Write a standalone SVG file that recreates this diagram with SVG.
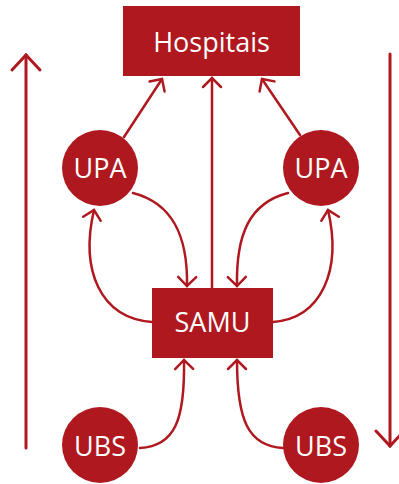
<svg xmlns="http://www.w3.org/2000/svg" width="399" height="484" viewBox="0 0 399 484">
<style>
.node{fill:#b0181f}
.lbl{fill:#fff;font-family:"Open Sans","Liberation Sans",sans-serif;font-size:27px;text-anchor:middle}
.con{fill:none;stroke:#b0181f;stroke-width:2.5;stroke-linecap:round}
</style>
<defs>
<marker id="ah" markerUnits="userSpaceOnUse" markerWidth="24" markerHeight="24" viewBox="-12 -12 24 24" refX="0" refY="0" orient="auto">
<path d="M-9,-9 L0,0 L-9,9" fill="none" stroke="#b0181f" stroke-width="2.5" stroke-linecap="round" stroke-linejoin="miter"/>
</marker>
<marker id="ahb" markerUnits="userSpaceOnUse" markerWidth="36" markerHeight="36" viewBox="-18 -18 36 36" refX="0" refY="0" orient="auto">
<path d="M-15,-14 L0,0 L-15,14" fill="none" stroke="#b0181f" stroke-width="3" stroke-linecap="round"/>
</marker>
</defs>
<g id="connectors">
<line class="con" x1="26" y1="448" x2="26" y2="55" marker-end="url(#ahb)" style="stroke-width:3"/>
<line class="con" x1="390" y1="54" x2="390" y2="446" marker-end="url(#ahb)" style="stroke-width:3"/>
<line class="con" x1="124" y1="137" x2="162" y2="79" marker-end="url(#ah)"/>
<line class="con" x1="212" y1="288" x2="212" y2="78" marker-end="url(#ah)"/>
<line class="con" x1="300" y1="135" x2="262" y2="79" marker-end="url(#ah)"/>
<path class="con" d="M133,193 C172,203 188,235 187,286" marker-end="url(#ah)"/>
<path class="con" d="M152,322 C100,318 80,270 94,210" marker-end="url(#ah)"/>
<path class="con" d="M288,193 C249,203 236,235 237,286" marker-end="url(#ah)"/>
<path class="con" d="M273,322 C322,318 342,270 328,210" marker-end="url(#ah)"/>
<path class="con" d="M140,448 C175,446 185,420 184,360" marker-end="url(#ah)"/>
<path class="con" d="M283,448 C248,446 237,420 237,360" marker-end="url(#ah)"/>
</g>
<g id="hospitais">
<rect class="node" x="123" y="6" width="177" height="70"/>
<text class="lbl" x="211.5" y="52">Hospitais</text>
</g>
<g id="upa-left">
<circle class="node" cx="100" cy="168" r="38"/>
<text class="lbl" x="100" y="178">UPA</text>
</g>
<g id="upa-right">
<circle class="node" cx="321" cy="168" r="38"/>
<text class="lbl" x="321" y="178">UPA</text>
</g>
<g id="samu">
<rect class="node" x="152" y="288" width="121" height="70"/>
<text class="lbl" x="212.5" y="332">SAMU</text>
</g>
<g id="ubs-left">
<circle class="node" cx="100" cy="445" r="38"/>
<text class="lbl" x="100" y="456">UBS</text>
</g>
<g id="ubs-right">
<circle class="node" cx="321" cy="445" r="38"/>
<text class="lbl" x="321" y="456">UBS</text>
</g>
</svg>
